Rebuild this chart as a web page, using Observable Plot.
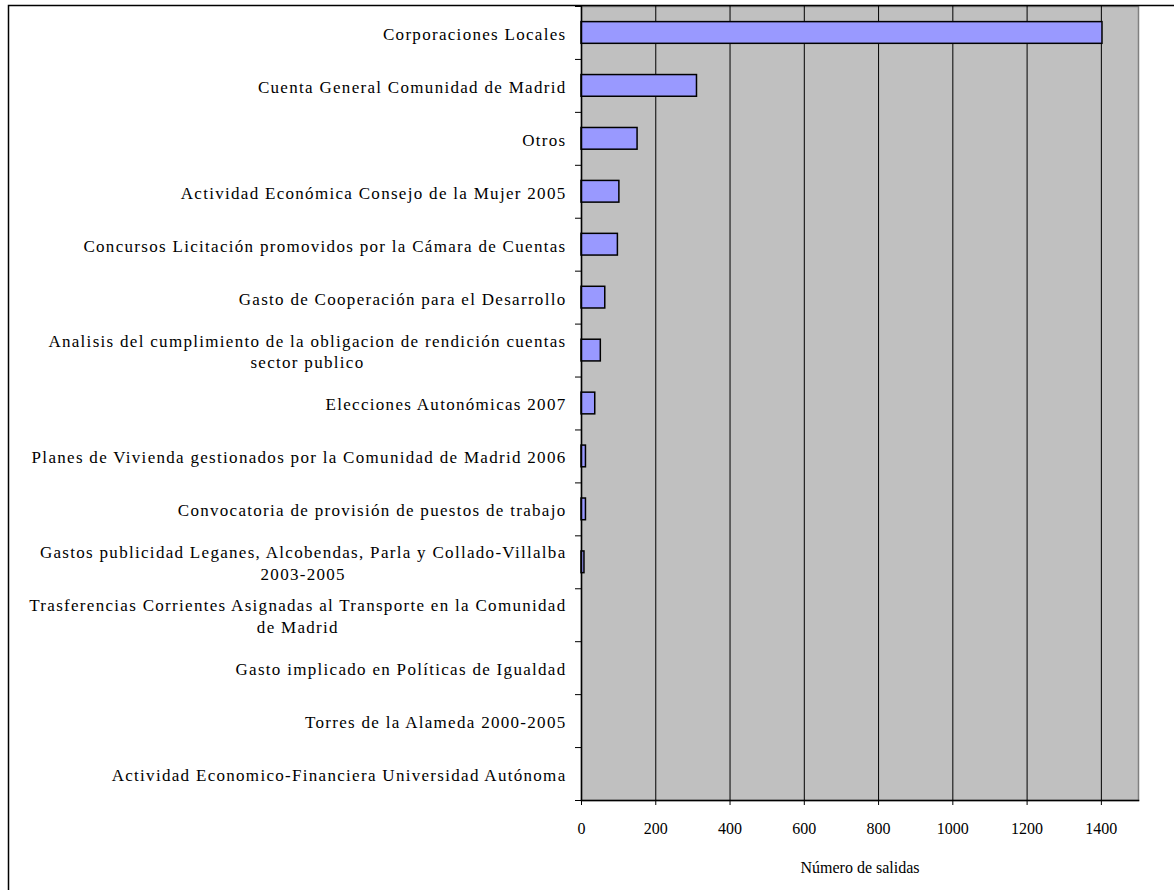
<!DOCTYPE html>
<html>
<head>
<meta charset="utf-8">
<script src="https://cdn.jsdelivr.net/npm/d3@7"></script>
<script src="https://cdn.jsdelivr.net/npm/@observablehq/plot@0.6"></script>
<style>
  html, body { margin: 0; padding: 0; background: #fff; }
  #chart svg { display: block; }
</style>
</head>
<body>
<div id="chart"></div>
<script>
const categories = [
  "Corporaciones Locales",
  "Cuenta General Comunidad de Madrid",
  "Otros",
  "Actividad Económica Consejo de la Mujer 2005",
  "Concursos Licitación promovidos por la Cámara de Cuentas",
  "Gasto de Cooperación para el Desarrollo",
  "Analisis del cumplimiento de la obligacion de rendición cuentas\nsector publico",
  "Elecciones Autonómicas 2007",
  "Planes de Vivienda gestionados por la Comunidad de Madrid 2006",
  "Convocatoria de provisión de puestos de trabajo",
  "Gastos publicidad Leganes, Alcobendas, Parla y Collado-Villalba\n2003-2005",
  "Trasferencias Corrientes Asignadas al Transporte en la Comunidad\nde Madrid",
  "Gasto implicado en Políticas de Igualdad",
  "Torres de la Alameda 2000-2005",
  "Actividad Economico-Financiera Universidad Autónoma"
];
const salidas = [1403, 311, 151, 102, 98, 64, 52, 37, 12, 12, 8, 0, 0, 0, 0];
const xTicks = [0, 200, 400, 600, 800, 1000, 1200, 1400];
const xLabel = "Número de salidas";

const data = categories.map((c, i) => ({cat: c, value: salidas[i]}));

const W = 1174, H = 890;
const mTop = 6, mBottom = 90, mLeft = 581, mRight = 36;
const step = (H - mTop - mBottom) / categories.length;

const fontFamily = "'Liberation Serif', 'Times New Roman', serif";

const chart = Plot.plot({
  width: W,
  height: H,
  marginTop: mTop,
  marginBottom: mBottom,
  marginLeft: mLeft,
  marginRight: mRight,
  style: {fontFamily, fontSize: "16px", color: "black", background: "white", overflow: "visible"},
  x: {domain: [0, 1500], ticks: xTicks},
  y: {domain: categories, paddingInner: 0.59, paddingOuter: 0.295, round: false, axis: null},
  marks: [
    Plot.frame({fill: "#C0C0C0", stroke: "#808080", strokeWidth: 1.5}),
    Plot.gridX(xTicks, {stroke: "black", strokeOpacity: 1, strokeWidth: 1}),
    Plot.barX(data.filter(d => d.value > 0), {y: "cat", x: "value", fill: "#9999FF", stroke: "black", strokeWidth: 1.5}),
    Plot.ruleX([0], {stroke: "black", strokeWidth: 1.5}),
    Plot.frame({anchor: "bottom", stroke: "black", strokeWidth: 1.5}),
    // category boundary tick marks
    Plot.axisY(categories, {tickSize: 6, tickFormat: () => "", dy: step / 2, stroke: "black", label: null}),
    Plot.axisY([categories[0]], {tickSize: 6, tickFormat: () => "", dy: -step / 2, stroke: "black", label: null}),
    // category labels
    Plot.text(categories, {y: d => d, text: d => d, frameAnchor: "left", textAnchor: "end", dx: -15, lineHeight: 1.27, fill: "black", fontSize: 17, lineWidth: Infinity, className: "catlabel"}),
    Plot.axisX(xTicks, {tickSize: 5, tickPadding: 17, tickFormat: d => String(d), stroke: "black", fill: "black", fontSize: 16, label: xLabel, labelAnchor: "center", labelOffset: 72, labelArrow: "none"})
  ]
});

// outer frame of the chart
d3.select(chart).append("rect")
  .attr("x", 8.5).attr("y", 5.5).attr("width", 1300).attr("height", 1000)
  .attr("fill", "none").attr("stroke", "black").attr("stroke-width", 1.5);

d3.select(chart).selectAll(".catlabel text").style("letter-spacing", "1.3px");

document.getElementById("chart").appendChild(chart);

// center the lines of wrapped labels on each other (right edge kept)
d3.select(chart).selectAll("text").each(function() {
  const tspans = this.querySelectorAll("tspan");
  if (tspans.length < 2) return;
  let maxW = 0;
  tspans.forEach(t => { maxW = Math.max(maxW, t.getComputedTextLength()); });
  this.setAttribute("text-anchor", "middle");
  tspans.forEach(t => t.setAttribute("x", -maxW / 2));
});
</script>
</body>
</html>
